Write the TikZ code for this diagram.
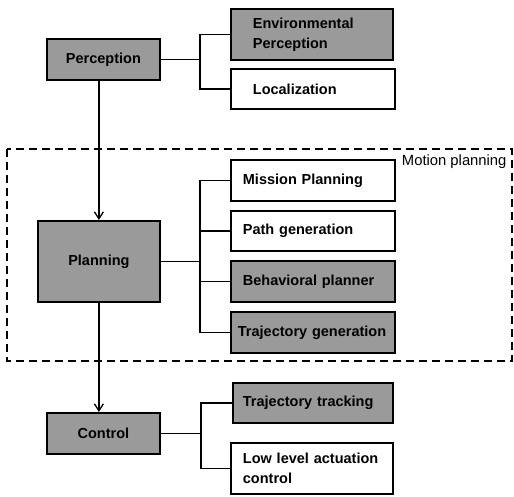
\documentclass[tikz,border=0pt]{standalone}
\usepackage{fontspec}
\setmainfont{Liberation Sans}
\usetikzlibrary{arrows.meta}
\definecolor{boxgray}{RGB}{154,154,154}
\begin{document}
\begin{tikzpicture}[x=1pt,y=-1pt,
  every node/.style={font=\fontsize{14.5}{20}\selectfont\bfseries},
  mainbox/.style={draw, line width=1.8pt, fill=boxgray, inner sep=0pt, align=center, anchor=north west},
  leaf/.style={draw, line width=1.8pt, inner ysep=0pt, inner xsep=12pt, align=left, anchor=north west, minimum height=40pt},
  shaded/.style={fill=boxgray},
  link/.style={line width=1.3pt},
  flow/.style={line width=1.3pt, -{Straight Barb[length=7pt,width=9pt,line width=1.3pt]}},
  group/.style={line width=1.3pt, dash pattern=on 8pt off 5pt}
]
\useasboundingbox (0,0) rectangle (514,496);

% motion planning group frame
\draw[group] (7,149) rectangle (512,361);
\node[anchor=base east, font=\fontsize{14.8}{18}\selectfont] (mplabel) at (510,165) {Motion planning};

% main stages
\node[mainbox, minimum width=113pt, minimum height=41pt] (perc) at (46,38) {Perception};
\node[mainbox, minimum width=122pt, minimum height=81pt] (plan) at (37,220) {Planning};
\node[mainbox, minimum width=113pt, minimum height=41pt] (ctrl) at (46,412) {Control};

% perception sub-tasks
\node[leaf, shaded, inner xsep=22pt, text width=118pt, minimum height=51pt] (env) at (230,8) {Environmental\\Perception};
\node[leaf, inner xsep=22pt, text width=120pt] (loc) at (230,68) {Localization};

% planning sub-tasks
\node[leaf, text width=140pt, minimum height=41pt] (mission) at (230,159) {Mission Planning};
\node[leaf, text width=140pt] (path) at (230,210) {Path generation};
\node[leaf, shaded, text width=140pt, minimum height=41pt] (behav) at (230,260) {Behavioral planner};
\node[leaf, shaded, inner xsep=7pt, text width=150pt, minimum height=41pt] (traj) at (230,311) {Trajectory generation};

% control sub-tasks
\node[leaf, shaded, inner xsep=10pt, text width=140pt] (track) at (232,382) {Trajectory tracking};
\node[leaf, text width=138pt, minimum height=51pt] (low) at (230,442) {Low level actuation\\control};

% bracket joints
\coordinate (jp) at (200,58);
\coordinate (jl) at (200,261);
\coordinate (jc) at (201,432);

\draw[link] (perc.east) -- (perc.east -| jp);
\draw[link] (perc.east -| jp) |- (env.west);
\draw[link] (perc.east -| jp) |- (loc.west);

\draw[link] (plan.east) -- (plan.east -| jl);
\draw[link] (plan.east -| jl) |- (mission.west);
\draw[link] (plan.east -| jl) |- (path.west);
\draw[link] (plan.east -| jl) |- (behav.west);
\draw[link] (plan.east -| jl) |- (traj.west);

\draw[link] (ctrl.east) -- (ctrl.east -| jc);
\draw[link] (ctrl.east -| jc) |- (track.west);
\draw[link] (ctrl.east -| jc) |- (low.west);

% flow between stages
\draw[flow] (perc.south -| plan.north) -- (plan.north);
\draw[flow] (plan.south) -- (plan.south |- ctrl.north);
\end{tikzpicture}
\end{document}
